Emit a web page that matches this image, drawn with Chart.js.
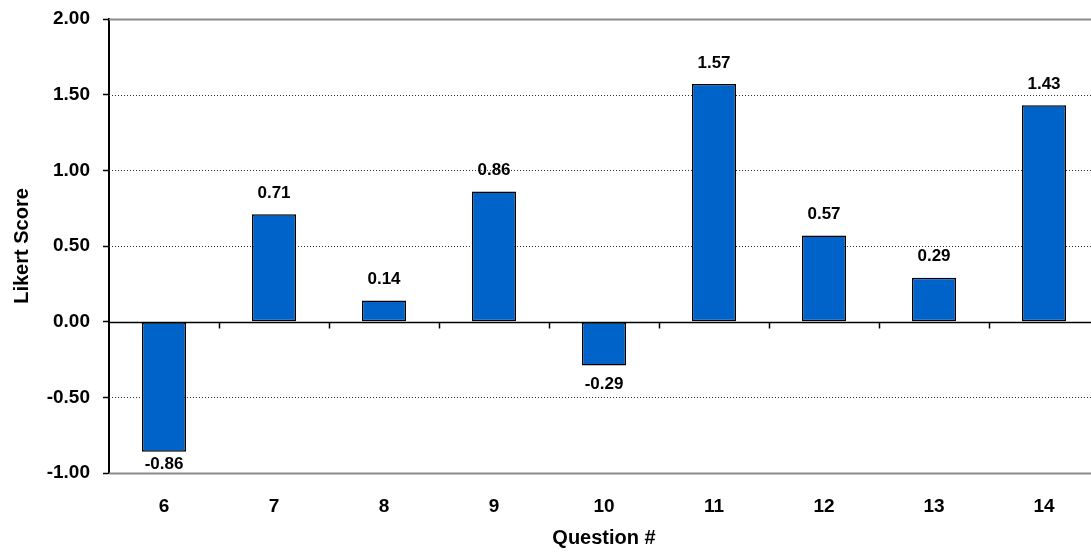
<!DOCTYPE html>
<html>
<head>
<meta charset="utf-8">
<script src="https://cdn.jsdelivr.net/npm/chart.js@4/dist/chart.umd.min.js"></script>
<style>
  html, body { margin: 0; padding: 0; background: #fff; overflow: hidden; }
  #wrap { width: 1100px; height: 554px; }
</style>
</head>
<body>
<div id="wrap"><canvas id="c" width="1100" height="554"></canvas></div>
<script>
// Mean Likert score per survey question
const questions = ['6', '7', '8', '9', '10', '11', '12', '13', '14'];
const scores = [-0.86, 0.71, 0.14, 0.86, -0.29, 1.57, 0.57, 0.29, 1.43];
const yTicks = [-1.0, -0.5, 0.0, 0.5, 1.0, 1.5, 2.0];

const FONT = '"Liberation Sans", Arial, sans-serif';

// Horizontal grid, zero line, category tick marks and value labels
const decorations = {
  id: 'decorations',
  beforeDatasetsDraw(chart) {
    const { ctx, chartArea: a, scales: { y } } = chart;
    ctx.save();
    y.ticks.forEach(t => {
      if (t.value === 0) return;
      const py = Math.round(y.getPixelForValue(t.value)) + 0.5;
      ctx.beginPath();
      if (t.value === y.max || t.value === y.min) {
        ctx.strokeStyle = '#8a8a8a';
        ctx.lineWidth = 2;
        ctx.setLineDash([]);
      } else {
        ctx.strokeStyle = '#333';
        ctx.lineWidth = 1;
        ctx.setLineDash([1, 2]);
      }
      ctx.moveTo(a.left, py);
      ctx.lineTo(a.right, py);
      ctx.stroke();
    });
    ctx.restore();
  },
  afterDatasetsDraw(chart) {
    const { ctx, chartArea: a, scales: { x, y } } = chart;
    ctx.save();
    const y0 = Math.round(y.getPixelForValue(0)) + 0.5;
    ctx.strokeStyle = '#000';
    ctx.lineWidth = 1.5;
    ctx.beginPath();
    ctx.moveTo(a.left, y0);
    ctx.lineTo(a.right, y0);
    ctx.stroke();
    // tick marks between categories on the zero line
    for (let i = 0; i < questions.length - 1; i++) {
      const px = Math.round((x.getPixelForValue(i) + x.getPixelForValue(i + 1)) / 2) + 0.5;
      ctx.beginPath();
      ctx.moveTo(px, y0);
      ctx.lineTo(px, y0 + 6);
      ctx.stroke();
    }
    // value labels
    ctx.fillStyle = '#000';
    ctx.font = 'bold 17px ' + FONT;
    ctx.textAlign = 'center';
    ctx.textBaseline = 'middle';
    const meta = chart.getDatasetMeta(0);
    meta.data.forEach((bar, i) => {
      const v = scores[i];
      let ly;
      if (v >= 0) {
        ly = bar.y - 21;
      } else {
        ly = Math.min(bar.y + 19, a.bottom - 9);
      }
      ctx.fillText(v.toFixed(2), bar.x, ly);
    });
    ctx.restore();
  }
};

new Chart(document.getElementById('c'), {
  type: 'bar',
  data: {
    labels: questions,
    datasets: [{
      data: scores,
      backgroundColor: '#0063CA',
      borderColor: '#000',
      borderWidth: 1.5,
      borderSkipped: false,
      barPercentage: 0.4,
      categoryPercentage: 1.0
    }]
  },
  options: {
    responsive: false,
    animation: false,
    events: [],
    layout: { padding: { top: 19, right: 1, left: 0, bottom: 0 } },
    plugins: { legend: { display: false }, tooltip: { enabled: false } },
    scales: {
      x: {
        grid: { display: false },
        border: { display: false },
        ticks: {
          color: '#000',
          padding: 14,
          font: { family: FONT, size: 19, weight: 'bold' }
        },
        title: {
          display: true,
          text: 'Question #',
          color: '#000',
          padding: { top: 0, bottom: 4 },
          font: { family: FONT, size: 20, weight: 'bold' }
        },
        afterFit(scale) {
          scale.height = 81;
          scale.paddingLeft = 0;
          scale.paddingRight = 0;
        }
      },
      y: {
        min: -1,
        max: 2,
        afterBuildTicks(scale) { scale.ticks = yTicks.map(v => ({ value: v })); },
        grid: {
          drawOnChartArea: false,
          drawTicks: true,
          tickLength: 6,
          tickColor: '#000',
          tickWidth: 1.5
        },
        border: { display: true, color: '#000', width: 2 },
        ticks: {
          color: '#000',
          padding: 13,
          font: { family: FONT, size: 19, weight: 'bold' },
          callback: v => Number(v).toFixed(2)
        },
        title: {
          display: true,
          text: 'Likert Score',
          color: '#000',
          padding: { top: 10, bottom: 0 },
          font: { family: FONT, size: 20, weight: 'bold' }
        },
        afterFit(scale) {
          scale.width = 109;
          scale.paddingTop = 0;
          scale.paddingBottom = 0;
        }
      }
    }
  },
  plugins: [decorations]
});
</script>
</body>
</html>
